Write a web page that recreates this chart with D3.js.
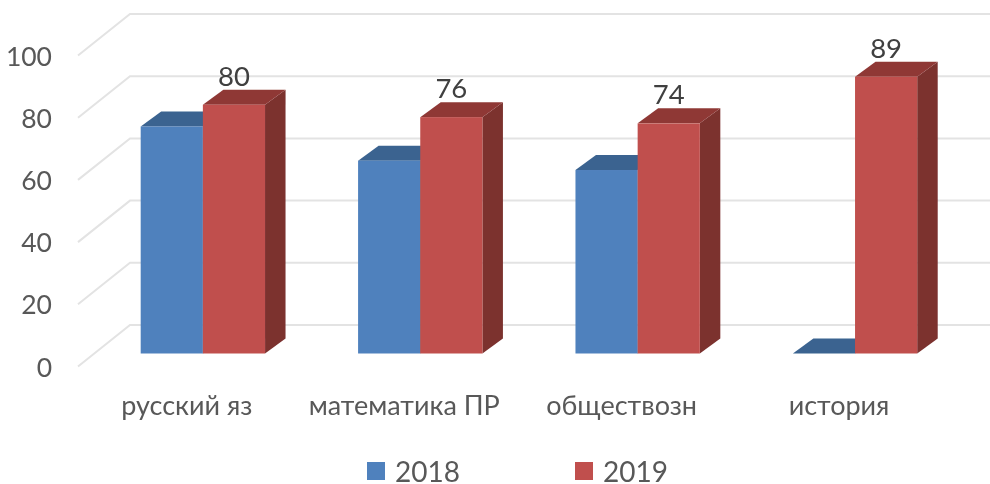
<!DOCTYPE html>
<html>
<head>
<meta charset="utf-8">
<script src="https://cdn.jsdelivr.net/npm/d3@7"></script>
<style>
  html, body { margin: 0; padding: 0; background: #fff; }
  text { font-family: Lato, "Open Sans", sans-serif; }
</style>
</head>
<body>
<div id="chart"></div>
<script>
const width = 990;
const height = 484;

const categories = ["русский яз", "математика ПР", "обществозн", "история"];
const years = ["2018", "2019"];
const values2018 = [73, 62, 59, 0];
const values2019 = [80, 76, 74, 89];
const yTicks = [0, 20, 40, 60, 80, 100];

const baseY = 353.5;
const barDx = 20.5, barDy = -15;   // depth of a bar
const wallDx = 52, wallDy = -41.5; // depth of the floor

const colors = {
  "2018": { front: "#4f81bd", top: "#3b6390", side: "#34587f" },
  "2019": { front: "#c0504d", top: "#8f3836", side: "#7b302e" }
};

const svg = d3.select("#chart")
  .append("svg")
    .attr("width", width)
    .attr("height", height)
    .attr("viewBox", [0, 0, width, height])
    .style("display", "block");

const defs = svg.append("defs");
defs.append("filter")
    .attr("id", "soft")
  .append("feGaussianBlur")
    .attr("stdDeviation", 0.55);
defs.append("filter")
    .attr("id", "softText")
  .append("feGaussianBlur")
    .attr("stdDeviation", 0.35);

const chart = svg.append("g").attr("filter", "url(#soft)");
const labels = svg.append("g").attr("filter", "url(#softText)");

/* scales */
const xScale = d3.scaleBand()
  .domain(categories)
  .range([94.3, 963.6])
  .paddingInner(0.428)
  .paddingOuter(0.2134);

const seriesScale = d3.scaleBand()
  .domain(years)
  .range([0, xScale.bandwidth()]);

const yScale = d3.scaleLinear()
  .domain([0, 100])
  .range([baseY, baseY - 311]);

/* walls */
const wallX0 = 78;
const grid = chart.append("g")
  .attr("fill", "none")
  .attr("stroke", "#e3e3e3")
  .attr("stroke-width", 2);

grid.selectAll("path")
  .data(yTicks)
  .join("path")
    .attr("d", d => {
      const y = yScale(d) + 13;
      return `M${wallX0},${y}L${wallX0 + wallDx},${y + wallDy}L${width},${y + wallDy}`;
    });

/* bars, 2018 first so 2019 overlaps it */
const rows = [];
categories.forEach((c, i) => {
  rows.push({ cat: c, year: "2018", value: values2018[i] });
  rows.push({ cat: c, year: "2019", value: values2019[i] });
});

const bars = chart.append("g").selectAll("g")
  .data(rows)
  .join("g");

bars.each(function (d) {
  const g = d3.select(this);
  const x0 = xScale(d.cat) + seriesScale(d.year);
  const x1 = x0 + seriesScale.bandwidth();
  const yTop = yScale(d.value);
  const c = colors[d.year];

  g.append("path")
    .attr("fill", c.side)
    .attr("d", `M${x1},${yTop}L${x1 + barDx},${yTop + barDy}L${x1 + barDx},${baseY + barDy}L${x1},${baseY}Z`);
  g.append("path")
    .attr("fill", c.top)
    .attr("d", `M${x0},${yTop}L${x0 + barDx},${yTop + barDy}L${x1 + barDx},${yTop + barDy}L${x1},${yTop}Z`);
  g.append("rect")
    .attr("x", x0)
    .attr("y", yTop)
    .attr("width", x1 - x0)
    .attr("height", baseY - yTop)
    .attr("fill", c.front);
});

/* y tick labels */
labels.append("g").selectAll("text")
  .data(yTicks)
  .join("text")
    .attr("x", 52)
    .attr("y", d => yScale(d) + 23)
    .attr("text-anchor", "end")
    .attr("font-size", 26.5)
    .attr("fill", "#595959")
    .text(d => d);

/* category labels */
labels.append("g").selectAll("text")
  .data(categories)
  .join("text")
    .attr("x", d => xScale(d) + xScale.bandwidth() / 2 - 16)
    .attr("y", 415)
    .attr("text-anchor", "middle")
    .attr("font-size", 27)
    .attr("fill", "#595959")
    .text(d => d);

/* data labels, 2019 only */
labels.append("g").selectAll("text")
  .data(categories)
  .join("text")
    .attr("x", d => xScale(d) + seriesScale("2019") + seriesScale.bandwidth() / 2)
    .attr("y", (d, i) => yScale(values2019[i]) - 19)
    .attr("text-anchor", "middle")
    .attr("font-size", 27.5)
    .attr("fill", "#404040")
    .text((d, i) => values2019[i]);

/* legend */
const legendX = d3.scaleOrdinal().domain(years).range([367, 575]);
const legend = labels.append("g").selectAll("g")
  .data(years)
  .join("g")
    .attr("transform", d => `translate(${legendX(d)},462)`);

legend.append("rect")
  .attr("width", 18)
  .attr("height", 18)
  .attr("fill", d => colors[d].front);

legend.append("text")
  .attr("x", 28)
  .attr("y", 20)
  .attr("font-size", 28)
  .attr("fill", "#595959")
  .text(d => d);
</script>
</body>
</html>
